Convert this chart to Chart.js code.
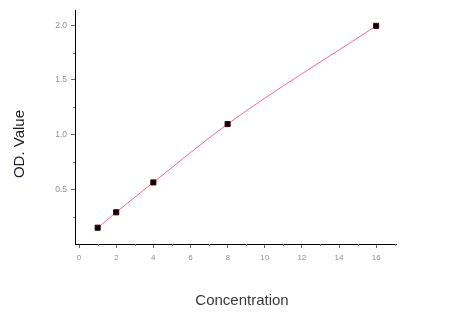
<!DOCTYPE html>
<html>
<head>
<meta charset="utf-8">
<script src="https://cdn.jsdelivr.net/npm/chart.js@4.4.1/dist/chart.umd.min.js"></script>
<style>
  html, body { margin: 0; padding: 0; background: #fff; }
  #wrap { width: 453px; height: 325px; }
</style>
</head>
<body>
<div id="wrap"><canvas id="chart" width="453" height="325"></canvas></div>
<script>
// standard curve readings
const concentration = [1, 2, 4, 8, 16];
const odValue = [0.149, 0.29, 0.563, 1.097, 1.995];

const xTicks = [0, 2, 4, 6, 8, 10, 12, 14, 16];
const xMinor = [1, 3, 5, 7, 9, 11, 13, 15, 17];
const yTicks = [0.5, 1.0, 1.5, 2.0];
const yMinor = [0.25, 0.75, 1.25, 1.75];

const xTitle = 'Concentration';
const yTitle = 'OD. Value';

const points = concentration.map((x, i) => ({ x, y: odValue[i] }));

const fontFamily = 'Liberation Sans, Arial, sans-serif';
const tickFont = { family: fontFamily, size: 8 };

// short minor tick marks, drawn through the scales
const minorTicks = {
  id: 'minorTicks',
  afterDraw(chart) {
    const { ctx, scales: { x, y }, chartArea } = chart;
    ctx.save();
    ctx.strokeStyle = '#777';
    ctx.lineWidth = 1;
    ctx.beginPath();
    xMinor.forEach(v => {
      const px = Math.round(x.getPixelForValue(v)) + 0.5;
      if (px > chartArea.right) return;
      ctx.moveTo(px, chartArea.bottom);
      ctx.lineTo(px, chartArea.bottom + 2);
    });
    yMinor.forEach(v => {
      const py = Math.round(y.getPixelForValue(v)) + 0.5;
      ctx.moveTo(chartArea.left, py);
      ctx.lineTo(chartArea.left - 2, py);
    });
    ctx.stroke();
    ctx.restore();
  }
};

// axis titles sit a bit off the axis centres in the original
const axisTitles = {
  id: 'axisTitles',
  afterDraw(chart) {
    const { ctx, chartArea } = chart;
    ctx.save();
    ctx.font = '15px ' + fontFamily;
    ctx.textAlign = 'center';
    ctx.textBaseline = 'middle';
    ctx.fillStyle = '#3a3a3a';
    ctx.fillText(xTitle, chartArea.left + 167, 301);
    ctx.translate(20, chartArea.top + 134);
    ctx.rotate(-Math.PI / 2);
    ctx.fillStyle = '#1a1a2a';
    ctx.fillText(yTitle, 0, 0);
    ctx.restore();
  }
};

new Chart(document.getElementById('chart'), {
  type: 'scatter',
  data: {
    datasets: [
      {
        type: 'scatter',
        data: points,
        pointStyle: 'rect',
        pointRadius: 3.6,
        pointBackgroundColor: '#0a0000',
        pointBorderColor: '#3a0008',
        pointBorderWidth: 1,
        order: 0
      },
      {
        type: 'line',
        data: points,
        borderColor: 'rgba(245, 80, 130, 0.85)',
        borderWidth: 1,
        pointRadius: 0,
        cubicInterpolationMode: 'monotone',
        fill: false,
        order: 1
      }
    ]
  },
  options: {
    responsive: false,
    animation: false,
    layout: { padding: { left: 0, right: 57, top: 10, bottom: 0 } },
    plugins: { legend: { display: false }, tooltip: { enabled: false } },
    scales: {
      x: {
        type: 'linear',
        min: -0.22,
        max: 17.07,
        afterFit(s) { s.height = 81; },
        afterBuildTicks(s) { s.ticks = xTicks.map(v => ({ value: v })); },
        border: { display: true, color: '#000', width: 1 },
        grid: { drawOnChartArea: false, drawTicks: true, tickLength: 4, color: '#666' },
        ticks: { font: tickFont, color: '#8c9099', padding: 5, maxRotation: 0, autoSkip: false },
        title: { display: false }
      },
      y: {
        type: 'linear',
        min: 0,
        max: 2.14,
        afterFit(s) { s.width = 75; },
        afterBuildTicks(s) { s.ticks = yTicks.map(v => ({ value: v })); },
        border: { display: true, color: '#000', width: 1 },
        grid: { drawOnChartArea: false, drawTicks: true, tickLength: 4, color: '#666' },
        ticks: { font: { family: fontFamily, size: 8.5 }, color: '#8c9099', padding: 4, callback: v => v.toFixed(1) },
        title: { display: false }
      }
    }
  },
  plugins: [minorTicks, axisTitles]
});
</script>
</body>
</html>
